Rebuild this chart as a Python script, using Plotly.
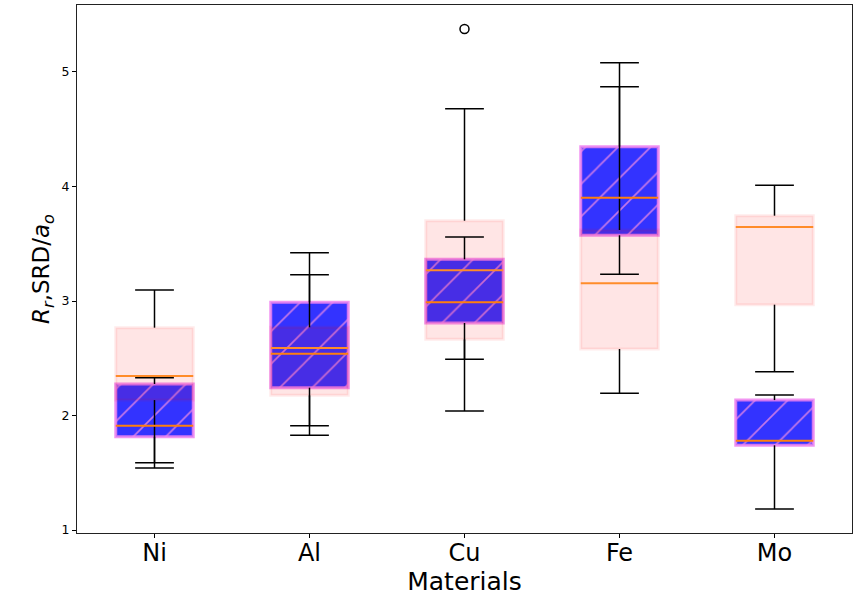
import plotly.graph_objects as go

categories = ["Ni", "Al", "Cu", "Fe", "Mo"]
positions = [1, 2, 3, 4, 5]

# Series A (light red, translucent boxes)
a_q1 = [2.135, 2.176, 2.665, 2.581, 2.968]
a_med = [2.345, 2.590, 3.268, 3.155, 3.646]
a_q3 = [2.767, 2.770, 3.701, 3.620, 3.745]
a_low = [1.541, 1.827, 2.491, 2.194, 2.383]
a_high = [3.096, 3.422, 4.680, 5.081, 4.010]
a_out_x = [3]
a_out_y = [5.375]

# Series B (blue hatched boxes)
b_q1 = [1.815, 2.243, 2.808, 3.574, 1.740]
b_med = [1.911, 2.540, 2.989, 3.902, 1.780]
b_q3 = [2.275, 2.989, 3.364, 4.348, 2.135]
b_low = [1.588, 1.911, 2.039, 3.233, 1.183]
b_high = [2.330, 3.230, 3.559, 4.872, 2.179]

y_ticks = [1, 2, 3, 4, 5]

BOX_W = 0.5
CAP_HW = 0.125


def whisker_xy(q1, q3, low, high):
    xs, ys = [], []
    for p, a, b, lo, hi in zip(positions, q1, q3, low, high):
        xs += [p, p, None, p, p, None,
               p - CAP_HW, p + CAP_HW, None, p - CAP_HW, p + CAP_HW, None]
        ys += [b, hi, None, a, lo, None, hi, hi, None, lo, lo, None]
    return xs, ys


def median_xy(med):
    xs, ys = [], []
    for p, m in zip(positions, med):
        xs += [p - BOX_W / 2, p + BOX_W / 2, None]
        ys += [m, m, None]
    return xs, ys


fig = go.Figure()

# Blue boxes (drawn first)
fig.add_trace(go.Bar(
    x=positions, y=[h - l for h, l in zip(b_q3, b_q1)], base=b_q1,
    width=BOX_W,
    marker=dict(
        color="rgba(0,0,255,0.8)",
        line=dict(color="rgba(238,130,238,0.85)", width=3),
        pattern=dict(shape="/", fillmode="overlay", fgcolor="#d47ee6",
                     fgopacity=0.9, size=23, solidity=0.07),
    ),
    showlegend=False, hoverinfo="skip",
))

# Light red boxes on top (translucent)
fig.add_trace(go.Bar(
    x=positions, y=[h - l for h, l in zip(a_q3, a_q1)], base=a_q1,
    width=BOX_W,
    marker=dict(color="rgba(255,0,0,0.1)",
                line=dict(color="rgba(255,0,0,0.08)", width=3)),
    showlegend=False, hoverinfo="skip",
))

# Whiskers and caps
for q1, q3, lo, hi in [(b_q1, b_q3, b_low, b_high), (a_q1, a_q3, a_low, a_high)]:
    wx, wy = whisker_xy(q1, q3, lo, hi)
    fig.add_trace(go.Scatter(x=wx, y=wy, mode="lines",
                             line=dict(color="black", width=1.5),
                             showlegend=False, hoverinfo="skip"))

# Medians
mx, my = median_xy(b_med)
fig.add_trace(go.Scatter(x=mx, y=my, mode="lines",
                         line=dict(color="#ff7f0e", width=2),
                         showlegend=False, hoverinfo="skip"))
mx, my = median_xy(a_med)
fig.add_trace(go.Scatter(x=mx, y=my, mode="lines",
                         line=dict(color="#ff8c2a", width=2),
                         showlegend=False, hoverinfo="skip"))

# Outlier
fig.add_trace(go.Scatter(x=a_out_x, y=a_out_y, mode="markers",
                         marker=dict(symbol="circle-open", size=9, color="black",
                                     line=dict(width=1.5, color="black")),
                         showlegend=False, hoverinfo="skip"))

fig.update_layout(
    width=859, height=596,
    margin=dict(l=77, r=7, t=5, b=63),
    paper_bgcolor="white", plot_bgcolor="white",
    barmode="overlay",
    font=dict(family="DejaVu Sans", color="black"),
)

fig.update_xaxes(
    range=[0.5, 5.5], automargin=False,
    tickmode="array", tickvals=positions, ticktext=categories,
    tickfont=dict(size=24), ticks="outside", ticklen=4, tickcolor="black",
    ticklabelstandoff=-6,
    showline=True, linecolor="#222", linewidth=1, mirror=True,
    showgrid=False, zeroline=False,
    title=dict(text="Materials", font=dict(size=25), standoff=0),
)

fig.update_yaxes(
    range=[0.974, 5.585], automargin=False,
    tickmode="array", tickvals=y_ticks,
    tickfont=dict(size=12.5), ticks="outside", ticklen=4, tickcolor="black",
    showline=True, linecolor="#222", linewidth=1, mirror=True,
    showgrid=False, zeroline=False,
    title=dict(text="<i>R</i><sub><i>r</i></sub>,SRD/<i>a</i><sub><i>o</i></sub>",
               font=dict(size=23), standoff=5),
)

fig.write_html("out.html")
